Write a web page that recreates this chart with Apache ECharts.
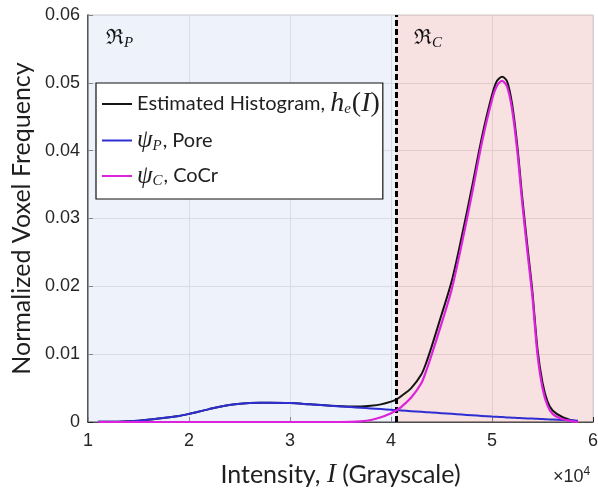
<!DOCTYPE html>
<html>
<head>
<meta charset="utf-8">
<script src="https://cdn.jsdelivr.net/npm/echarts@6/dist/echarts.min.js"></script>
<style>
  html, body { margin: 0; padding: 0; background: #ffffff; }
  #chart { width: 598px; height: 495px; }
</style>
</head>
<body>
<div id="chart"></div>
<script>
// Intensity sample positions (grayscale units)
const intensity = [11000, 13000, 15000, 17000, 19000, 20000, 22000, 24000, 26000, 27000,
  28000, 30000, 32000, 34000, 36000, 37000, 38000, 39000, 40000, 40500,
  41000, 42000, 43000, 43500, 44000, 45000, 46000, 47000, 48000, 49000,
  50000, 50500, 51000, 51500, 52000, 52500, 53000, 53500, 54000, 54500,
  55000, 55500, 56000, 57000, 58000, 58500];

// Estimated histogram h_e(I)
const histogram = [0.00002, 0.00005, 0.0002, 0.0005, 0.0009, 0.0012, 0.0019, 0.0025, 0.0028, 0.00285,
  0.00285, 0.0028, 0.0026, 0.0024, 0.0023, 0.0023, 0.0024, 0.0026, 0.0030, 0.0033,
  0.0038, 0.0050, 0.0070, 0.0088, 0.0110, 0.0158, 0.0207, 0.0273, 0.0345, 0.0420,
  0.0482, 0.0503, 0.0509, 0.0502, 0.0468, 0.0408, 0.0330, 0.0260, 0.0192, 0.0108,
  0.0058, 0.0030, 0.0017, 0.0007, 0.0002, 0.0001];

// Pore component psi_P
const pore = [0.00002, 0.00005, 0.0002, 0.0005, 0.0009, 0.0012, 0.0019, 0.0025, 0.0028, 0.00285,
  0.00285, 0.0028, 0.0026, 0.0024, 0.0022, 0.0021, 0.0020, 0.0019, 0.0018, 0.00175,
  0.0017, 0.0016, 0.0015, 0.00145, 0.0014, 0.0013, 0.0012, 0.0011, 0.0010, 0.0009,
  0.0008, 0.00076, 0.00072, 0.00068, 0.00064, 0.0006, 0.00056, 0.00052, 0.0005, 0.00047,
  0.00044, 0.0004, 0.00037, 0.0003, 0.00024, 0.0002];

// CoCr component psi_C
const cocr = [0, 0, 0, 0, 0, 0, 0, 0, 0, 0,
  0, 0, 0, 0, 0.00003, 0.0001, 0.0003, 0.0007, 0.0013, 0.0017,
  0.0022, 0.0036, 0.0057, 0.0076, 0.0098, 0.0145, 0.0195, 0.0262, 0.0335, 0.0412,
  0.0475, 0.0496, 0.0503, 0.0494, 0.0460, 0.0400, 0.0322, 0.0252, 0.0185, 0.0100,
  0.0050, 0.0024, 0.0012, 0.0004, 0.0001, 0];

// Threshold separating the pore and CoCr regions
const threshold = 40500;
const xMin = 10000, xMax = 60000, xStep = 10000;
const yMin = 0, yMax = 0.06, yStep = 0.01;

const pair = (ys) => intensity.map((x, i) => [x, ys[i]]);

const sans = 'Lato';
const serif = 'Liberation Serif';
const textColor = '#1f1f1f';

const chart = echarts.init(document.getElementById('chart'), null, { renderer: 'canvas' });

chart.setOption({
  backgroundColor: '#ffffff',
  animation: false,
  grid: {
    left: 88, right: 5, top: 15, bottom: 73,
    outerBoundsMode: 'none',
    show: true, borderColor: '#c9c9c9', borderWidth: 1, backgroundColor: 'transparent'
  },
  xAxis: {
    type: 'value', min: xMin, max: xMax, interval: xStep,
    axisLine: { show: true, onZero: false, lineStyle: { color: '#262626', width: 1.5 } },
    axisTick: { show: true, inside: true, length: 5, lineStyle: { color: '#262626' } },
    splitLine: { show: true, lineStyle: { color: '#d2d2d2', width: 1 } },
    axisLabel: {
      margin: 10, color: '#262626', fontFamily: 'Liberation Sans', fontSize: 18,
      formatter: (v) => String(v / 10000)
    },
    name: '{t|Intensity, }{i|I}{t| (Grayscale)}',
    nameLocation: 'middle', nameGap: 39,
    nameTextStyle: {
      rich: {
        t: { fontFamily: sans, fontSize: 25, color: textColor },
        i: { fontFamily: serif, fontStyle: 'italic', fontSize: 27, color: textColor }
      }
    }
  },
  yAxis: {
    type: 'value', min: yMin, max: yMax, interval: yStep,
    axisLine: { show: true, lineStyle: { color: '#262626', width: 1.5 } },
    axisTick: { show: true, inside: true, length: 5, lineStyle: { color: '#262626' } },
    splitLine: { show: true, lineStyle: { color: '#d2d2d2', width: 1 } },
    axisLabel: {
      margin: 8, color: '#262626', fontFamily: 'Liberation Sans', fontSize: 18,
      formatter: (v) => (v === 0 ? '0' : v.toFixed(2))
    },
    name: 'Normalized Voxel Frequency',
    nameLocation: 'middle', nameGap: 53,
    nameTextStyle: { fontFamily: sans, fontSize: 25, color: textColor }
  },
  legend: {
    data: ['histogram', 'pore', 'cocr'],
    orient: 'vertical',
    left: 96, top: 83,
    padding: [7, 3, 10, 6],
    itemGap: 10,
    itemWidth: 30, itemHeight: 2,
    icon: 'rect',
    backgroundColor: '#ffffff',
    borderColor: '#111111', borderWidth: 1.2,
    selectedMode: false,
    formatter: (name) => ({
      histogram: '{t|Estimated Histogram, }{h|h}{s|e}{r|(}{h|I}{r|)}',
      pore: '{m|ψ}{s|P}{t|, Pore}',
      cocr: '{m|ψ}{s|C}{t|, CoCr}'
    })[name],
    textStyle: {
      color: textColor,
      rich: {
        t: { fontFamily: sans, fontSize: 20, color: textColor, height: 26 },
        h: { fontFamily: serif, fontStyle: 'italic', fontSize: 28, color: textColor, height: 26 },
        m: { fontFamily: serif, fontStyle: 'italic', fontSize: 25, color: textColor, height: 26 },
        r: { fontFamily: serif, fontSize: 28, color: textColor, height: 26 },
        s: { fontFamily: serif, fontStyle: 'italic', fontSize: 15, color: textColor, padding: [11, 1, 0, 0] }
      }
    }
  },
  series: [
    {
      // region shading behind everything
      name: 'regions', type: 'line', data: [[xMin, 0]], symbol: 'none', silent: true,
      lineStyle: { opacity: 0 }, z: 1,
      markArea: {
        silent: true,
        label: {
          show: true, position: 'insideTopLeft', offset: [13, 6],
          formatter: (p) => p.name === 'P' ? '{r|ℜ}{s|P}' : '{r|ℜ}{s|C}',
          rich: {
            r: { fontFamily: 'DejaVu Serif', fontSize: 21, color: '#111111' },
            s: { fontFamily: serif, fontStyle: 'italic', fontSize: 15, color: '#111111', padding: [10, 0, 0, 0] }
          }
        },
        data: [
          [{ name: 'P', xAxis: xMin, yAxis: yMax, itemStyle: { color: 'rgba(221,231,247,0.5)' } }, { xAxis: threshold, yAxis: yMin }],
          [{ name: 'C', xAxis: threshold, yAxis: yMax, itemStyle: { color: 'rgba(239,195,195,0.5)' } }, { xAxis: xMax, yAxis: yMin }]
        ]
      }
    },
    {
      name: 'histogram', type: 'line', data: pair(histogram), symbol: 'none', smooth: 0.3,
      lineStyle: { color: '#141414', width: 2 }, itemStyle: { color: '#141414' }, z: 3
    },
    {
      name: 'pore', type: 'line', data: pair(pore), symbol: 'none', smooth: 0.3,
      lineStyle: { color: '#2e2ed2', width: 2 }, itemStyle: { color: '#2e2ed2' }, z: 4
    },
    {
      name: 'cocr', type: 'line', data: pair(cocr), symbol: 'none', smooth: 0.3,
      lineStyle: { color: '#dd22dd', width: 2.2 }, itemStyle: { color: '#dd22dd' }, z: 5
    },
    {
      // threshold marker
      name: 'threshold', type: 'line', data: [[xMin, 0]], symbol: 'none', silent: true,
      lineStyle: { opacity: 0 }, z: 6,
      markLine: {
        silent: true, symbol: ['none', 'none'], label: { show: false },
        lineStyle: { color: '#000000', width: 3, type: [6, 3] },
        data: [{ xAxis: threshold }]
      }
    }
  ],
  graphic: [
    {
      type: 'text', left: 553, top: 466,
      style: {
        text: '{a|×10}{b|4}',
        rich: {
          a: { fontFamily: 'Liberation Sans', fontSize: 18, fill: '#262626' },
          b: { fontFamily: 'Liberation Sans', fontSize: 12, fill: '#262626', padding: [0, 0, 10, 0] }
        }
      }
    }
  ]
});
</script>
</body>
</html>
